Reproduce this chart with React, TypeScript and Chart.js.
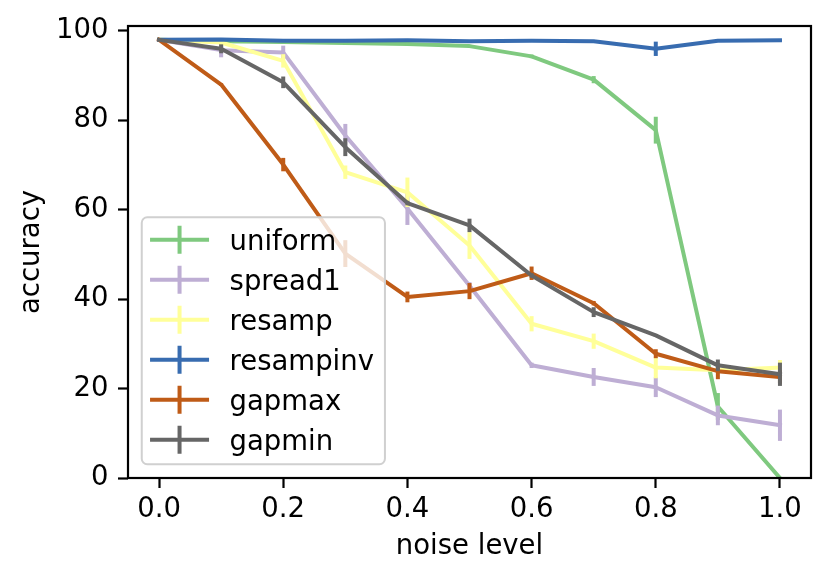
import React, { useEffect, useRef } from "react";
import { Chart, registerables } from "chart.js";

Chart.register(...registerables);

// x values (noise level) and axis ticks
const noiseLevels = [0.0, 0.1, 0.2, 0.3, 0.4, 0.5, 0.6, 0.7, 0.8, 0.9, 1.0];
const xTicks = [0.0, 0.2, 0.4, 0.6, 0.8, 1.0];
const yTicks = [0, 20, 40, 60, 80, 100];

const seriesNames = ["uniform", "spread1", "resamp", "resampinv", "gapmax", "gapmin"];
const seriesColors = ["#7fc97f", "#beaed4", "#ffff99", "#386cb0", "#bf5b17", "#666666"];

// mean accuracy per noise level
const uniform = [98.0, 97.7, 97.5, 97.3, 97.1, 96.6, 94.3, 89.1, 77.8, 16.0, 0.0];
const spread1 = [98.0, 95.7, 95.2, 76.6, 60.3, 43.0, 25.2, 22.6, 20.3, 14.0, 11.8];
const resamp = [98.0, 97.4, 93.3, 68.4, 63.9, 52.0, 34.5, 30.6, 24.7, 24.1, 24.7];
const resampinv = [98.0, 98.1, 97.8, 97.8, 97.9, 97.7, 97.8, 97.7, 96.0, 97.8, 97.9];
const gapmax = [98.0, 88.0, 70.1, 50.2, 40.5, 41.8, 45.8, 39.1, 27.8, 23.9, 22.6];
const gapmin = [98.0, 96.0, 88.5, 74.0, 61.5, 56.5, 45.3, 37.1, 31.9, 25.2, 23.2];

// error bar half-lengths
const uniformErr = [0.2, 0.3, 0.3, 0.3, 0.3, 0.3, 0.4, 0.8, 3.0, 3.0, 0.0];
const spread1Err = [0.2, 1.6, 1.5, 2.6, 3.7, 0.8, 0.6, 2.0, 2.2, 2.2, 3.5];
const resampErr = [0.2, 0.6, 1.5, 1.5, 3.3, 3.0, 1.7, 1.7, 2.4, 0.5, 1.7];
const resampinvErr = [0.2, 0.2, 0.2, 0.2, 0.2, 0.2, 0.2, 0.2, 1.6, 0.2, 0.2];
const gapmaxErr = [0.2, 0.3, 1.5, 3.0, 1.2, 1.8, 1.5, 0.5, 1.0, 1.8, 1.5];
const gapminErr = [0.2, 1.0, 1.3, 2.0, 0.5, 1.5, 0.5, 1.1, 0.3, 1.3, 2.6];

const seriesValues = [uniform, spread1, resamp, resampinv, gapmax, gapmin];
const seriesErrors = [uniformErr, spread1Err, resampErr, resampinvErr, gapmaxErr, gapminErr];

const FONT = "DejaVu Sans";
const FS = 27.5;
const LW = 4;

const errorBarPlugin = {
  id: "errorBars",
  afterDatasetDraw(chart: any, args: any) {
    const i = args.index;
    const { ctx, chartArea } = chart;
    const xs = chart.scales.x;
    const ys = chart.scales.y;
    ctx.save();
    ctx.beginPath();
    ctx.rect(chartArea.left, chartArea.top, chartArea.right - chartArea.left, chartArea.bottom - chartArea.top);
    ctx.clip();
    ctx.strokeStyle = seriesColors[i];
    ctx.lineWidth = LW;
    ctx.lineCap = "butt";
    noiseLevels.forEach((nx, k) => {
      const v = seriesValues[i][k];
      const e = seriesErrors[i][k];
      if (e <= 0) return;
      const px = xs.getPixelForValue(nx);
      ctx.beginPath();
      ctx.moveTo(px, ys.getPixelForValue(v - e));
      ctx.lineTo(px, ys.getPixelForValue(v + e));
      ctx.stroke();
    });
    ctx.restore();
  },
};

const framePlugin = {
  id: "frame",
  afterDatasetsDraw(chart: any) {
    const { ctx, chartArea } = chart;
    ctx.save();
    ctx.strokeStyle = "#000";
    ctx.lineWidth = 2.2;
    ctx.strokeRect(chartArea.left, chartArea.top, chartArea.right - chartArea.left, chartArea.bottom - chartArea.top);
    ctx.restore();
  },
};

const legendPlugin = {
  id: "boxLegend",
  afterDraw(chart: any) {
    const { ctx, chartArea } = chart;
    ctx.save();
    ctx.font = `${FS}px "${FONT}"`;
    const pad = 0.4 * FS;
    const rowH = 40;
    const handleLen = 59;
    const handleInset = 8.3;
    const textGap = 20.5;
    const maxW = Math.max(...seriesNames.map((n) => ctx.measureText(n).width));
    const w = handleInset + handleLen + textGap + maxW + pad;
    const h = 247;
    const left = chartArea.left + 0.5 * FS;
    const top = chartArea.bottom - 0.5 * FS - h;
    ctx.beginPath();
    ctx.roundRect(left, top, w, h, 5.5);
    ctx.fillStyle = "rgba(255,255,255,0.8)";
    ctx.fill();
    ctx.lineWidth = 2;
    ctx.strokeStyle = "#d0d0d0";
    ctx.stroke();
    seriesNames.forEach((name, i) => {
      const cy = top + 22.5 + i * rowH;
      const x0 = left + handleInset;
      ctx.strokeStyle = seriesColors[i];
      ctx.lineWidth = LW;
      ctx.lineCap = "butt";
      ctx.beginPath();
      ctx.moveTo(x0, cy);
      ctx.lineTo(x0 + handleLen, cy);
      ctx.moveTo(x0 + handleLen / 2, cy - 14);
      ctx.lineTo(x0 + handleLen / 2, cy + 14);
      ctx.stroke();
      ctx.fillStyle = "#000";
      ctx.textBaseline = "alphabetic";
      ctx.textAlign = "left";
      ctx.fillText(name, x0 + handleLen + textGap, cy + 10);
    });
    ctx.restore();
  },
};

const App: React.FC = () => {
  const canvasRef = useRef<HTMLCanvasElement | null>(null);

  useEffect(() => {
    document.body.style.margin = "0";
    if (!canvasRef.current) return;

    const chart = new Chart(canvasRef.current, {
      type: "line",
      data: {
        datasets: seriesNames.map((name, i) => ({
          label: name,
          data: noiseLevels.map((x, k) => ({ x, y: seriesValues[i][k] })),
          borderColor: seriesColors[i],
          backgroundColor: seriesColors[i],
          borderWidth: LW,
          borderJoinStyle: "round" as const,
          borderCapStyle: "square" as const,
          pointRadius: 0,
          tension: 0,
          fill: false,
          order: seriesNames.length - i,
        })),
      },
      options: {
        responsive: false,
        animation: false,
        devicePixelRatio: 1,
        layout: { padding: { top: 25, right: 20, left: 0, bottom: 0 } },
        plugins: {
          legend: { display: false },
          tooltip: { enabled: false },
        },
        scales: {
          x: {
            type: "linear",
            min: -0.05,
            max: 1.05,
            afterBuildTicks: (scale: any) => {
              scale.ticks = xTicks.map((v) => ({ value: v }));
            },
            afterFit: (scale: any) => {
              scale.height = 103;
            },
            ticks: {
              callback: (v: any) => Number(v).toFixed(1),
              font: { family: FONT, size: FS },
              color: "#000",
              padding: 5.5,
              maxRotation: 0,
            },
            grid: {
              drawOnChartArea: false,
              drawTicks: true,
              tickLength: 10,
              tickWidth: 2.2,
              tickColor: "#000",
            },
            border: { display: false },
            title: {
              display: true,
              text: "noise level",
              font: { family: FONT, size: FS },
              color: "#000",
              padding: { top: 0, bottom: 17.7 },
            },
          },
          y: {
            type: "linear",
            min: 0,
            max: 101.1,
            afterBuildTicks: (scale: any) => {
              scale.ticks = yTicks.map((v) => ({ value: v }));
            },
            afterFit: (scale: any) => {
              scale.width = 128;
            },
            ticks: {
              callback: (v: any) => String(v),
              font: { family: FONT, size: FS },
              color: "#000",
              padding: 9.5,
            },
            grid: {
              drawOnChartArea: false,
              drawTicks: true,
              tickLength: 10,
              tickWidth: 2.2,
              tickColor: "#000",
            },
            border: { display: false },
            title: {
              display: true,
              text: "accuracy",
              font: { family: FONT, size: FS },
              color: "#000",
              padding: { top: 15.3, bottom: 0 },
            },
          },
        },
      },
      plugins: [errorBarPlugin, framePlugin, legendPlugin],
    });

    return () => {
      chart.destroy();
    };
  }, []);

  return (
    <canvas
      ref={canvasRef}
      width={831}
      height={581}
      style={{ display: "block", width: 831, height: 581 }}
    ></canvas>
  );
};

export default App;
